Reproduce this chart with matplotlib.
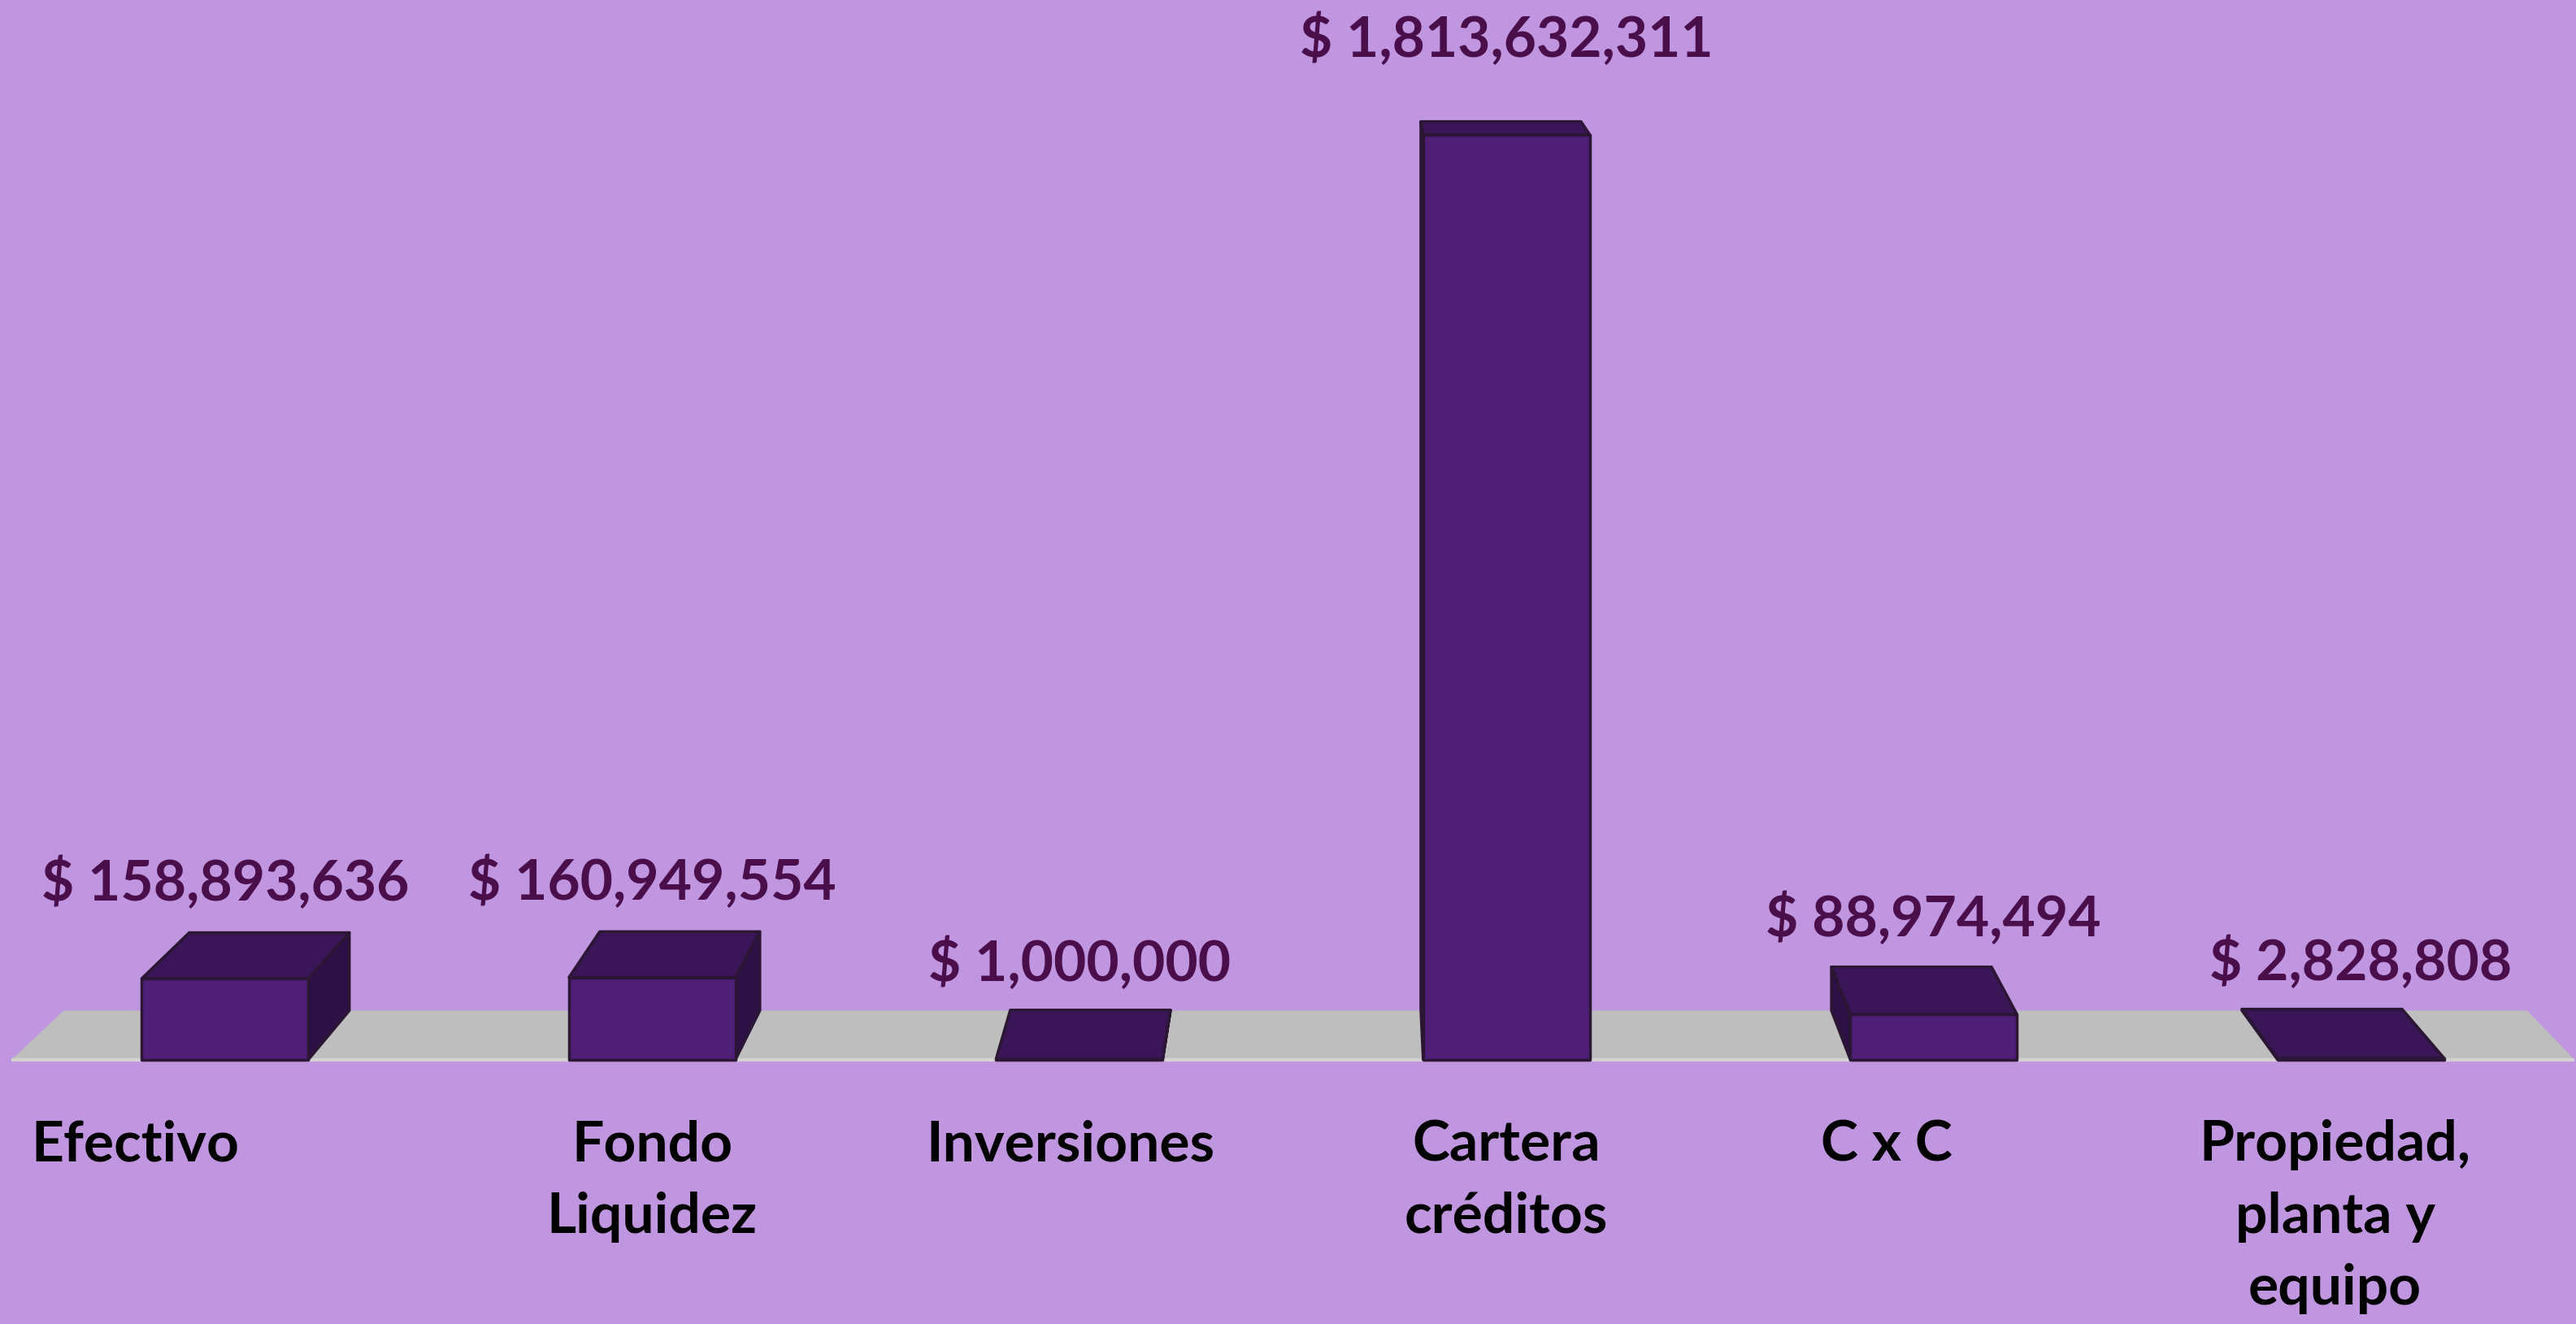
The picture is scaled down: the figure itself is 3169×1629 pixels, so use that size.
import matplotlib.pyplot as plt
from matplotlib.patches import Polygon

categories = ["Efectivo", "Fondo\nLiquidez", "Inversiones", "Cartera\ncréditos",
              "C x C", "Propiedad,\nplanta y\nequipo"]
values = [158893636, 160949554, 1000000, 1813632311, 88974494, 2828808]
value_labels = ["$ 158,893,636", "$ 160,949,554", "$ 1,000,000",
                "$ 1,813,632,311", "$ 88,974,494", "$ 2,828,808"]
label_dx = [-0.21, 0.0, -0.02, 0.0, -0.11, -0.06]

bg = "#C196E0"
front_c = "#4F1F78"
top_c = "#3A1558"
side_c = "#2D1046"
edge_c = "#2B1634"
floor_c = "#BEBEBE"
text_c = "#4A0E4B"

# perspective: back point = p + f * (vanish - p)
vx, vy = 2.665, 2.477e9
f = 0.0388
w = 0.39


def back(x, y):
    return (x + f * (vx - x), y + f * (vy - y))


fig = plt.figure(figsize=(31.69, 16.29), dpi=100)
fig.patch.set_facecolor(bg)
ax = fig.add_axes([0, 0, 1, 1])
ax.set_facecolor(bg)
ax.set_xlim(-0.527, 5.504)
ax.set_ylim(-5.186e8, 2.0778e9)
ax.axis("off")

# floor
x0, x1 = -0.5, len(values) - 0.5
floor = [(x0, 0), (x1, 0), back(x1, 0), back(x0, 0)]
ax.add_patch(Polygon(floor, closed=True, facecolor=floor_c, edgecolor="none", zorder=1))
ax.plot([x0, x1], [0, 0], color="#D2D2D2", lw=3, zorder=1.5, solid_capstyle="butt")

for i, v in enumerate(values):
    l, r = i - w / 2, i + w / 2
    # visible side
    sx = r if r < vx else l
    side = [(sx, 0), (sx, v), back(sx, v), back(sx, 0)]
    ax.add_patch(Polygon(side, closed=True, facecolor=side_c, edgecolor=edge_c,
                         lw=2.5, joinstyle="round", zorder=2))
    top = [(l, v), (r, v), back(r, v), back(l, v)]
    ax.add_patch(Polygon(top, closed=True, facecolor=top_c, edgecolor=edge_c,
                         lw=2.5, joinstyle="round", zorder=3))
    front = [(l, 0), (r, 0), (r, v), (l, v)]
    ax.add_patch(Polygon(front, closed=True, facecolor=front_c, edgecolor=edge_c,
                         lw=2.5, joinstyle="round", zorder=4))

    ax.annotate(value_labels[i], (i, v), xytext=(0, 69), textcoords="offset points",
                ha="center", va="baseline", fontsize=50, fontweight="bold",
                family="Lato", color=text_c, zorder=5)
    ax.annotate(categories[i], (i + label_dx[i], 0), xytext=(0, -53),
                textcoords="offset points", ha="center", va="top",
                fontsize=50, fontweight="bold", family="Lato", color="black",
                linespacing=1.5, zorder=5)

fig.savefig("out.png", dpi=100, facecolor=bg)
